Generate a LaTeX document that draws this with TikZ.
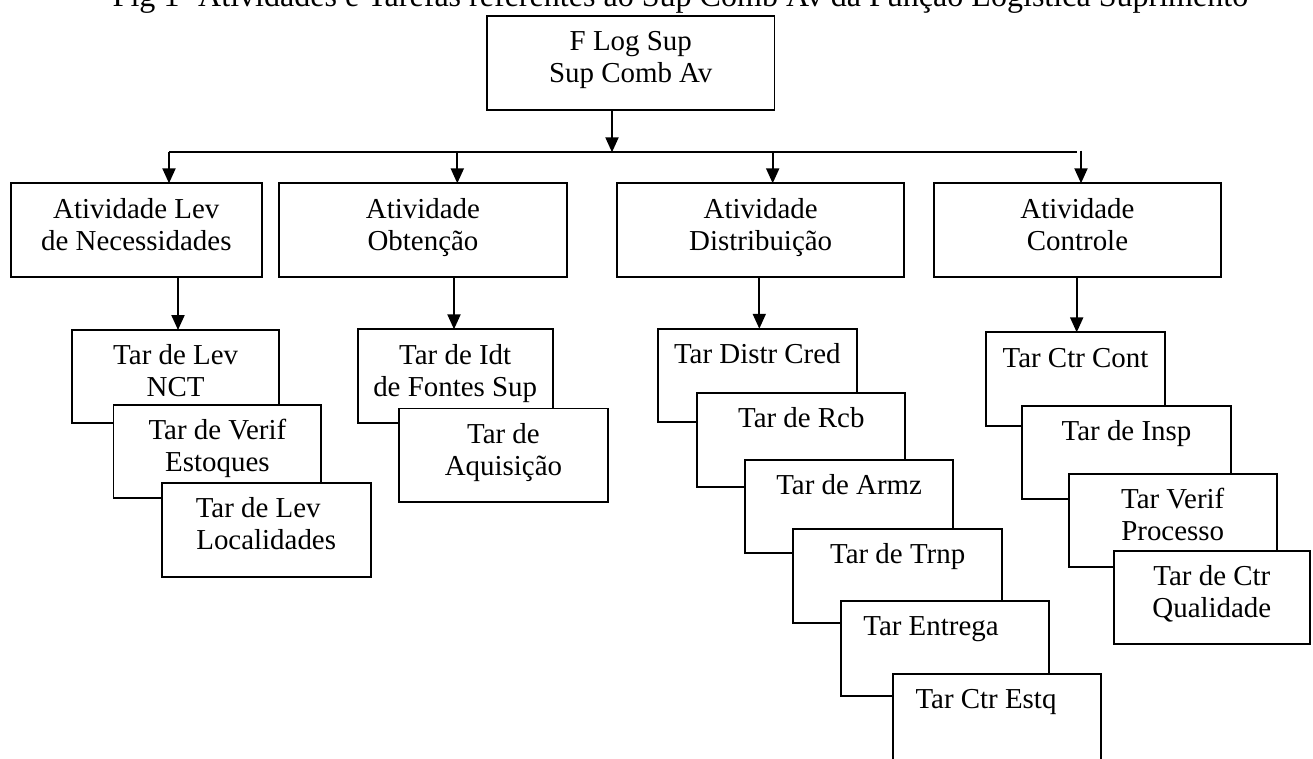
\documentclass[tikz,border=0pt]{standalone}
\usepackage{fontspec}
\setmainfont{Liberation Serif}
\usetikzlibrary{arrows.meta}
\newdimen\px \px=0.415pt
\tikzset{
 bx/.style={draw, fill=white, line width=0.8pt, inner sep=0pt, outer sep=0pt, anchor=north west},
 arr/.style={line width=0.8pt, -{Triangle[length=6.2pt,width=5.4pt]}},
 ln/.style={line width=0.8pt},
}
\newcommand\mybox[6]{\node[bx] (#1) at (#2,#3) {\parbox[c][#5\px][t]{#4\px}{\centering\fontsize{12pt}{13.3pt}\selectfont\rule{0pt}{14.5pt}#6\par}};}
\begin{document}
\begin{tikzpicture}[x=0.415pt,y=-0.415pt]
\useasboundingbox (0,0) rectangle (1313,758);
\clip (0,0) rectangle (1313,758);
\node[anchor=base, inner sep=0pt, font=\fontsize{13.3pt}{15pt}\selectfont] (title) at (680.5,6) {Fig 1- Atividades e Tarefas referentes ao Sup Comb Av da Função Logística Suprimento};
% top
\mybox{top}{487}{16}{287.5}{94}{F Log Sup\\Sup Comb Av}
% activities
\mybox{a1}{10.7}{183.3}{251.3}{93.4}{Atividade Lev\\de Necessidades}
\mybox{a2}{279.3}{183.3}{287.4}{93.4}{Atividade\\Obtenção}
\mybox{a3}{617.3}{183.3}{286.7}{93.4}{Atividade\\Distribuição}
\mybox{a4}{934}{183.3}{287}{93.4}{Atividade\\Controle}
% Lev tasks
\mybox{l1}{72}{330}{207.3}{93.3}{Tar de Lev\\NCT}
\mybox{l2}{113.5}{405}{207.8}{93.3}{Tar de Verif\\Estoques}
\mybox{l3}{161.7}{482.7}{209}{94}{Tar de Lev\rule{16\px}{0pt}\\Localidades}
% Obt tasks
\mybox{o1}{357.7}{329.3}{195}{93.4}{Tar de Idt\\de Fontes Sup}
\mybox{o2}{399.3}{408.5}{208.3}{93.2}{Tar de\\Aquisição}
% Distr tasks
\mybox{d1}{657.7}{328.7}{199.3}{93}{Tar Distr Cred}
\mybox{d2}{697.3}{392.7}{208}{94}{Tar de Rcb}
\mybox{d3}{745}{460}{208.3}{93.3}{Tar de Armz}
\mybox{d4}{793.3}{529}{208.7}{93.7}{Tar de Trnp}
\mybox{d5}{841}{600.7}{208}{95.3}{Tar Entrega\rule{28\px}{0pt}}
\mybox{d6}{893.3}{674}{207.4}{95}{Tar Ctr Estq\rule{22\px}{0pt}}
% Controle tasks
\mybox{c1}{986}{332.3}{179}{93.4}{Tar Ctr Cont}
\mybox{c2}{1022.3}{405.7}{208.4}{93.6}{Tar de Insp}
\mybox{c3}{1068.7}{474}{208}{93.3}{Tar Verif\\Processo}
\mybox{c4}{1113.7}{550.7}{196.3}{93.3}{Tar de Ctr\\Qualidade}
% connectors
\coordinate (j0) at (612,152.3);
\draw[arr] (top.south -| j0) -- (j0);
\coordinate (busL) at (169,152.3);
\coordinate (busR) at (1077,152.3);
\draw[ln] (busL) -- (busR);
\coordinate (b2) at (457.3,152.3);
\coordinate (b3) at (772.7,152.3);
\coordinate (b4) at (1081,150.5);
\draw[arr] (busL) -- (busL |- a1.north);
\draw[arr] (b2) -- (b2 |- a2.north);
\draw[arr] (b3) -- (b3 |- a3.north);
\draw[arr] (b4) -- (b4 |- a4.north);
\coordinate (e1) at (178,300);
\coordinate (e2) at (454,300);
\coordinate (e3) at (759.3,300);
\coordinate (e4) at (1076.7,300);
\draw[arr] (a1.south -| e1) -- (e1 |- l1.north);
\draw[arr] (a2.south -| e2) -- (e2 |- o1.north);
\draw[arr] (a3.south -| e3) -- (e3 |- d1.north);
\draw[arr] (a4.south -| e4) -- (e4 |- c1.north);
\end{tikzpicture}
\end{document}
